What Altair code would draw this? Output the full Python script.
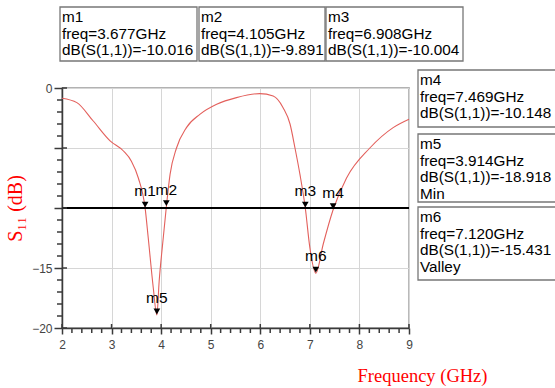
import altair as alt
import pandas as pd

# ---- data ----
freq = [2.0, 2.30, 2.63, 2.97, 3.24, 3.40, 3.54, 3.677, 3.74, 3.84, 3.914, 3.96, 4.03,
        4.105, 4.18, 4.31, 4.51, 4.78, 5.12, 5.52, 5.99, 6.26, 6.46, 6.60, 6.70, 6.80,
        6.908, 7.00, 7.12, 7.27, 7.469, 7.74, 8.21, 8.68, 9.0]
s11 = [-0.85, -1.22, -2.75, -4.4, -5.25, -6.1, -7.5, -10.016, -12.5, -16.6, -18.918, -16.1, -13.0,
       -9.891, -7.2, -5.0, -3.3, -2.2, -1.36, -0.8, -0.47, -0.67, -1.64, -3.0, -5.0, -7.2,
       -10.004, -13.3, -15.431, -13.0, -10.148, -7.5, -5.0, -3.3, -2.6]

marker_names = ["m1", "m2", "m3", "m4", "m5", "m6"]
marker_freq = [3.677, 4.105, 6.908, 7.469, 3.914, 7.120]
marker_db = [-10.016, -9.891, -10.004, -10.148, -18.918, -15.431]
marker_note = ["", "", "", "", "Min", "Valley"]

ref_level = [-10]
x_ticks = [2, 3, 4, 5, 6, 7, 8, 9]
y_ticks = [-20, -15, -10, -5, 0]
x_minor = [round(2 + 0.2 * i, 1) for i in range(36) if i % 5 != 0]
y_minor = [-i for i in range(1, 20) if i % 5 != 0]

W, H = 347, 240
SANS = "Liberation Sans"
SERIF = "Liberation Serif"
AX = "#3a3a3a"
X0, X1, Y0, Y1 = 2, 9, -20, 0
px_x = (X1 - X0) / W     # GHz per pixel
px_y = (Y1 - Y0) / H     # dB per pixel

curve_df = pd.DataFrame({"freq": freq, "s11": s11})
mk_df = pd.DataFrame({"freq": marker_freq, "s11": marker_db, "name": marker_names})

xscale = alt.Scale(domain=[X0, X1], nice=False, zero=False)
yscale = alt.Scale(domain=[Y0, Y1], nice=False, zero=False)

curve = alt.Chart(curve_df).mark_line(color="#e3605c", strokeWidth=1.1, interpolate="monotone").encode(
    x=alt.X("freq:Q", scale=xscale, axis=alt.Axis(
        values=x_ticks, tickSize=6, tickWidth=1.5, tickColor=AX, domainColor=AX, domainWidth=1.5,
        grid=True, gridColor="#d6d6d6", labelFont=SANS, labelFontSize=12, labelColor="#444",
        labelPadding=5, labelFlush=False, title="Frequency (GHz)", titleColor="red", titleFont=SERIF,
        titleFontSize=18.5, titleFontWeight="normal", titleX=360, titleY=47,
        titleAlign="center", titleBaseline="middle")),
    y=alt.Y("s11:Q", scale=yscale, axis=alt.Axis(
        values=y_ticks, tickSize=8, tickWidth=1.5, tickColor=AX, domainColor=AX, domainWidth=1.5,
        grid=True, gridColor="#d6d6d6", labelFont=SANS, labelFontSize=12, labelColor="#444",
        labelPadding=2, labelFlush=False,
        labelExpr="datum.value == -5 || datum.value == -10 ? '' : datum.label",
        title="S₁₁ (dB)", titleColor="red", titleFont=SERIF, titleFontSize=20,
        titleFontWeight="normal", titleX=-47, titleY=120, titleAngle=270,
        titleAlign="center", titleBaseline="middle")),
)

ref = alt.Chart(pd.DataFrame({"s11": ref_level})).mark_rule(color="black", strokeWidth=2).encode(
    y=alt.Y("s11:Q", scale=yscale))

xminor = alt.Chart(pd.DataFrame({"freq": x_minor})).mark_rule(color=AX, strokeWidth=1.5).encode(
    x=alt.X("freq:Q", scale=xscale), y=alt.datum(Y0), y2=alt.datum(Y0 - 5 * px_y))
yminor = alt.Chart(pd.DataFrame({"s11": y_minor})).mark_tick(
    color=AX, thickness=1.5, size=5, orient="horizontal", xOffset=-2.5, opacity=1).encode(
    y=alt.Y("s11:Q", scale=yscale), x=alt.datum(X0))
xmaj_in = alt.Chart(pd.DataFrame({"freq": x_ticks})).mark_rule(color=AX, strokeWidth=1.5).encode(
    x=alt.X("freq:Q", scale=xscale), y=alt.datum(Y0 + 4 * px_y), y2=alt.datum(Y0))
ymaj_in = alt.Chart(pd.DataFrame({"s11": y_ticks})).mark_tick(
    color=AX, thickness=1.5, size=5, orient="horizontal", xOffset=2.5, opacity=1).encode(
    y=alt.Y("s11:Q", scale=yscale), x=alt.datum(X0))

tri = alt.Chart(mk_df).mark_point(shape="triangle-down", filled=True, color="black",
                                  size=45, opacity=1, yOffset=-3.5).encode(
    x=alt.X("freq:Q", scale=xscale), y=alt.Y("s11:Q", scale=yscale))
lab = alt.Chart(mk_df).mark_text(font=SANS, fontSize=15.5, color="black", dy=-17).encode(
    x=alt.X("freq:Q", scale=xscale), y=alt.Y("s11:Q", scale=yscale), text="name:N")

# marker readout boxes (layout in pixels relative to plot origin)
box_layout = [(-2, 135, -81, -27), (137, 263, -81, -27), (264, 401, -81, -27),
              (356, 498, -18, 39), (356, 498, 46, 114), (356, 498, 119, 192)]
boxes = []
for i, (x0, x1, y0, y1) in enumerate(box_layout):
    lines = [marker_names[i], f"freq={marker_freq[i]:.3f}GHz", f"dB(S(1,1))={marker_db[i]:.3f}"]
    if marker_note[i]:
        lines.append(marker_note[i])
    d = pd.DataFrame({"t": ["\n".join(lines)]})
    boxes.append(alt.Chart(d).mark_rect(fill="white", stroke="#777", strokeWidth=1.3).encode(
        x=alt.value(x0), x2=alt.value(x1), y=alt.value(y0), y2=alt.value(y1)))
    boxes.append(alt.Chart(d).mark_text(font=SANS, fontSize=15.3, color="black", align="left",
                                        baseline="alphabetic", lineBreak="\n", lineHeight=16.5).encode(
        x=alt.value(x0 + 2), y=alt.value(y0 + 15), text="t:N"))

chart = alt.layer(curve, ref, xminor, yminor, xmaj_in, ymaj_in, tri, lab, *boxes).properties(
    width=W, height=H,
    autosize=alt.AutoSizeParams(type="none"),
    padding={"left": 62, "top": 88, "right": 146, "bottom": 60},
    background="white",
).configure_view(stroke="#666", strokeWidth=1.3)

chart.save("out.html", embed_options={"renderer": "svg", "actions": False})
